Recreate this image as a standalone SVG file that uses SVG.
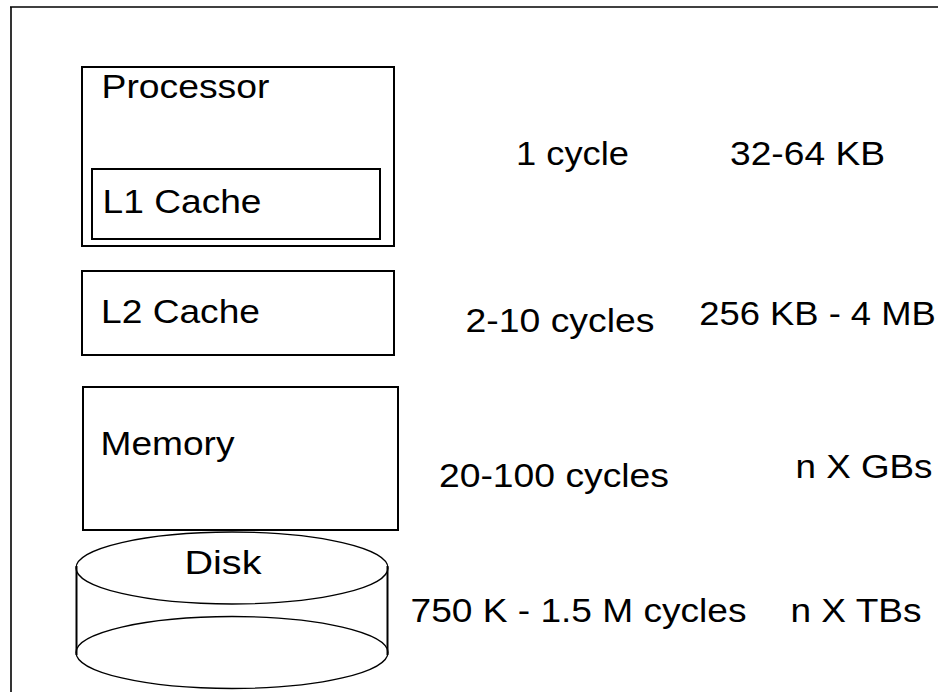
<svg xmlns="http://www.w3.org/2000/svg" width="939" height="692" viewBox="0 0 939 692">
<style>
.box{fill:none;stroke:#000;stroke-width:2}
.thin{fill:none;stroke:#000;stroke-width:1.3}
.t{font-family:"Liberation Sans",Arial,sans-serif;font-size:34px;fill:#000}
</style>
<rect width="939" height="692" fill="#fff"/>
<g id="frame">
<line x1="10" y1="7" x2="938" y2="7" stroke="#000" stroke-width="1.6"/>
<line x1="11" y1="7" x2="11" y2="692" stroke="#000" stroke-width="1.6"/>
</g>
<g id="processor">
<rect class="box" x="82" y="67" width="312" height="179"/>
<g transform="scale(1.09,1)"><text class="t" x="93.12" y="98" textLength="154.1" lengthAdjust="spacingAndGlyphs">Processor</text></g>
</g>
<g id="l1cache">
<rect class="box" x="92" y="169" width="288" height="70"/>
<g transform="scale(1.09,1)"><text class="t" x="94.04" y="213.5" textLength="145.9" lengthAdjust="spacingAndGlyphs">L1 Cache</text></g>
</g>
<g id="l2cache">
<rect class="box" x="82" y="271" width="312" height="84"/>
<g transform="scale(1.09,1)"><text class="t" x="92.66" y="323.5" textLength="145.9" lengthAdjust="spacingAndGlyphs">L2 Cache</text></g>
</g>
<g id="memory">
<rect class="box" x="83" y="387" width="315" height="143"/>
<g transform="scale(1.09,1)"><text class="t" x="92.2" y="455" textLength="122.9" lengthAdjust="spacingAndGlyphs">Memory</text></g>
</g>
<g id="disk">
<ellipse class="thin" cx="232" cy="652.5" rx="156" ry="36"/>
<line x1="76.5" y1="566" x2="76.5" y2="655" stroke="#000" stroke-width="2"/>
<line x1="387.5" y1="566" x2="387.5" y2="655" stroke="#000" stroke-width="2"/>
<ellipse class="thin" cx="232" cy="568" rx="156" ry="36" fill="#fff"/>
<g transform="scale(1.09,1)"><text class="t" x="169.27" y="574" textLength="70.6" lengthAdjust="spacingAndGlyphs">Disk</text></g>
</g>
<g id="latency" transform="scale(1.09,1)">
<text class="t" x="473.39" y="165" textLength="103.7" lengthAdjust="spacingAndGlyphs">1 cycle</text>
<text class="t" x="427.06" y="332.5" textLength="173.4" lengthAdjust="spacingAndGlyphs">2-10 cycles</text>
<text class="t" x="402.75" y="487.5" textLength="211" lengthAdjust="spacingAndGlyphs">20-100 cycles</text>
<text class="t" x="376.61" y="622" textLength="308.3" lengthAdjust="spacingAndGlyphs">750 K - 1.5 M cycles</text>
</g>
<g id="capacity" transform="scale(1.09,1)">
<text class="t" x="669.72" y="165" textLength="142.2" lengthAdjust="spacingAndGlyphs">32-64 KB</text>
<text class="t" x="641.5" y="325.5" textLength="217" lengthAdjust="spacingAndGlyphs">256 KB - 4 MB</text>
<text class="t" x="729.82" y="478.5" textLength="125.7" lengthAdjust="spacingAndGlyphs">n X GBs</text>
<text class="t" x="725.23" y="622" textLength="120.2" lengthAdjust="spacingAndGlyphs">n X TBs</text>
</g>
<g id="connectors"/>
</svg>
